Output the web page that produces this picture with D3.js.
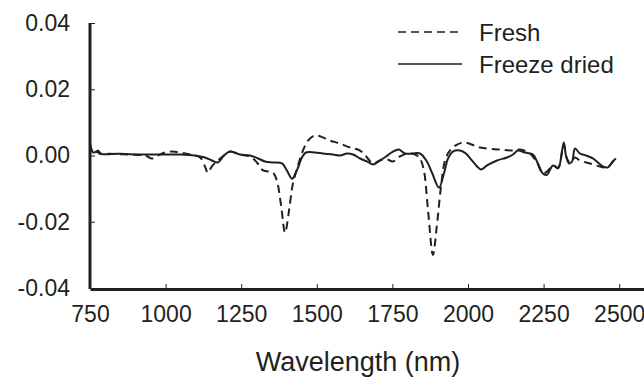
<!DOCTYPE html>
<html>
<head>
<meta charset="utf-8">
<script src="https://cdn.jsdelivr.net/npm/d3@7"></script>
<style>
  body { margin: 0; background: #fff; }
  svg { display: block; font-family: "Liberation Sans", Arial, sans-serif; }
</style>
</head>
<body>
<svg id="chart"></svg>
<script>
var width = 644;
var height = 378;

// wavelength (nm), value pairs
var fresh = [
  [750, 0.0036], [757, 0.0015], [767, 0.0006], [776, 0.0015], [786, 0.0006],
  [816, 0.0005], [882, 0.0003], [932, 0.0], [955, -0.0009], [975, 0.0],
  [998, 0.0009], [1021, 0.0012], [1048, 0.0009], [1081, 0.0003], [1114, -0.0006],
  [1130, -0.0033], [1140, -0.0052], [1153, -0.0033], [1173, -0.0015], [1193, 0.0],
  [1213, 0.0012], [1246, 0.0003], [1279, -0.0003], [1302, -0.0021], [1322, -0.0045],
  [1355, -0.0052], [1368, -0.0076], [1382, -0.0152], [1395, -0.0233], [1408, -0.0167],
  [1421, -0.0085], [1438, -0.003], [1454, 0.0015], [1471, 0.0045], [1487, 0.0058],
  [1504, 0.006], [1544, 0.0045], [1577, 0.0036], [1610, 0.0024], [1643, 0.0015],
  [1666, -0.0006], [1686, -0.0024], [1709, -0.0015], [1732, -0.0012], [1752, -0.0018],
  [1775, -0.0003], [1798, 0.0006], [1825, 0.0003], [1841, -0.0009], [1854, -0.0045],
  [1868, -0.0167], [1884, -0.030], [1897, -0.0212], [1911, -0.0091], [1924, -0.0015],
  [1940, 0.0015], [1964, 0.0033], [1990, 0.0039], [2040, 0.0024], [2106, 0.0018],
  [2149, 0.0015], [2172, 0.0018], [2205, 0.0006], [2228, -0.0021], [2248, -0.0055],
  [2265, -0.0045], [2281, -0.003], [2298, -0.0036], [2311, 0.0009], [2317, 0.0033],
  [2327, -0.0009], [2337, -0.0021], [2354, -0.0006], [2370, -0.0015], [2403, -0.0024],
  [2436, -0.0033], [2460, -0.0036], [2479, -0.0018], [2489, -0.0009]
];

var freezeDried = [
  [750, 0.003], [760, 0.0009], [773, 0.0012], [783, 0.0005], [849, 0.0005],
  [915, 0.0003], [981, 0.0003], [1048, 0.0003], [1097, 0.0], [1130, -0.0006],
  [1153, -0.0015], [1173, -0.0021], [1193, 0.0], [1213, 0.0012], [1246, 0.0003],
  [1279, 0.0], [1306, -0.0009], [1329, -0.0018], [1355, -0.0021], [1385, -0.0024],
  [1401, -0.0045], [1418, -0.007], [1434, -0.0045], [1451, -0.0006], [1464, 0.0009],
  [1494, 0.0009], [1520, 0.0006], [1554, 0.0003], [1577, 0.0], [1600, 0.0006],
  [1620, 0.0003], [1643, -0.0009], [1666, -0.0018], [1686, -0.0027], [1709, -0.0015],
  [1729, -0.0003], [1742, 0.0006], [1759, 0.0015], [1772, 0.0018], [1792, 0.0006],
  [1815, 0.0006], [1841, 0.0006], [1864, -0.0018], [1881, -0.0052], [1904, -0.0097],
  [1921, -0.0052], [1934, -0.0009], [1950, 0.0012], [1974, 0.0015], [1993, 0.0006],
  [2013, -0.0015], [2030, -0.0033], [2043, -0.0042], [2063, -0.003], [2096, -0.0015],
  [2129, -0.0006], [2149, 0.0003], [2165, 0.0015], [2188, 0.0009], [2215, 0.0003],
  [2231, -0.0024], [2248, -0.0055], [2261, -0.0058], [2281, -0.003], [2298, -0.0039],
  [2311, 0.0015], [2317, 0.0039], [2324, 0.0], [2334, -0.0024], [2344, -0.0018],
  [2354, 0.0021], [2370, 0.0006], [2390, 0.0], [2413, -0.0009], [2446, -0.0033],
  [2463, -0.0036], [2479, -0.0018], [2489, -0.0009]
];

var xTicks = [750, 1000, 1250, 1500, 1750, 2000, 2250, 2500];
var yTicks = [0.04, 0.02, 0, -0.02, -0.04];
var yTickLabels = ["0.04", "0.02", "0.00", "-0.02", "-0.04"];
var seriesNames = ["Fresh", "Freeze dried"];

var ink = "#231f20";

var svg = d3.select("#chart")
  .attr("width", width)
  .attr("height", height);

var x = d3.scaleLinear()
  .domain([750, 2582])
  .range([90, 644]);

var y = d3.scaleLinear()
  .domain([-0.04, 0.04])
  .range([288, 23]);

var line = d3.line()
  .x(function(d) { return x(d[0]); })
  .y(function(d) { return y(d[1]); })
  .curve(d3.curveCatmullRom.alpha(0.5));

// curves
svg.append("path")
  .datum(fresh)
  .attr("d", line)
  .attr("fill", "none")
  .attr("stroke", ink)
  .attr("stroke-width", 2)
  .attr("stroke-dasharray", "8,5");

svg.append("path")
  .datum(freezeDried)
  .attr("d", line)
  .attr("fill", "none")
  .attr("stroke", ink)
  .attr("stroke-width", 2);

// axes, ticks point inward
var yAxis = d3.axisLeft(y)
  .tickValues(yTicks)
  .tickFormat(function(d, i) { return yTickLabels[i]; })
  .tickSizeInner(-5)
  .tickSizeOuter(0)
  .tickPadding(20);

var xAxis = d3.axisBottom(x)
  .tickValues(xTicks)
  .tickFormat(d3.format("d"))
  .tickSizeInner(-5)
  .tickSizeOuter(0)
  .tickPadding(17);

var gx = svg.append("g")
  .attr("transform", "translate(0," + 289 + ")")
  .call(xAxis);

var gy = svg.append("g")
  .attr("transform", "translate(" + 90 + ",0)")
  .call(yAxis);

gy.select(".domain").attr("d", "M0," + y(0.04) + "V289");

[gx, gy].forEach(function(g) {
  g.select(".domain").attr("stroke", ink).attr("stroke-width", 3);
  g.selectAll(".tick line").attr("stroke", ink).attr("stroke-width", 1);
  g.selectAll(".tick text")
    .attr("fill", ink)
    .style("font-size", "23px")
    .style("font-family", "'Liberation Sans', Arial, sans-serif");
});

// axis title
svg.append("text")
  .attr("x", 358)
  .attr("y", 371)
  .attr("text-anchor", "middle")
  .attr("fill", ink)
  .style("font-size", "27px")
  .text("Wavelength (nm)");

// legend
var legend = svg.append("g");
seriesNames.forEach(function(name, i) {
  var ly = 32 + i * 32;
  legend.append("line")
    .attr("x1", 398).attr("x2", 462)
    .attr("y1", ly).attr("y2", ly)
    .attr("stroke", ink)
    .attr("stroke-width", 1.5)
    .attr("stroke-dasharray", i === 0 ? "8,5" : null);
  legend.append("text")
    .attr("x", 479)
    .attr("y", ly + 9)
    .attr("fill", ink)
    .style("font-size", "24px")
    .text(name);
});
</script>
</body>
</html>
